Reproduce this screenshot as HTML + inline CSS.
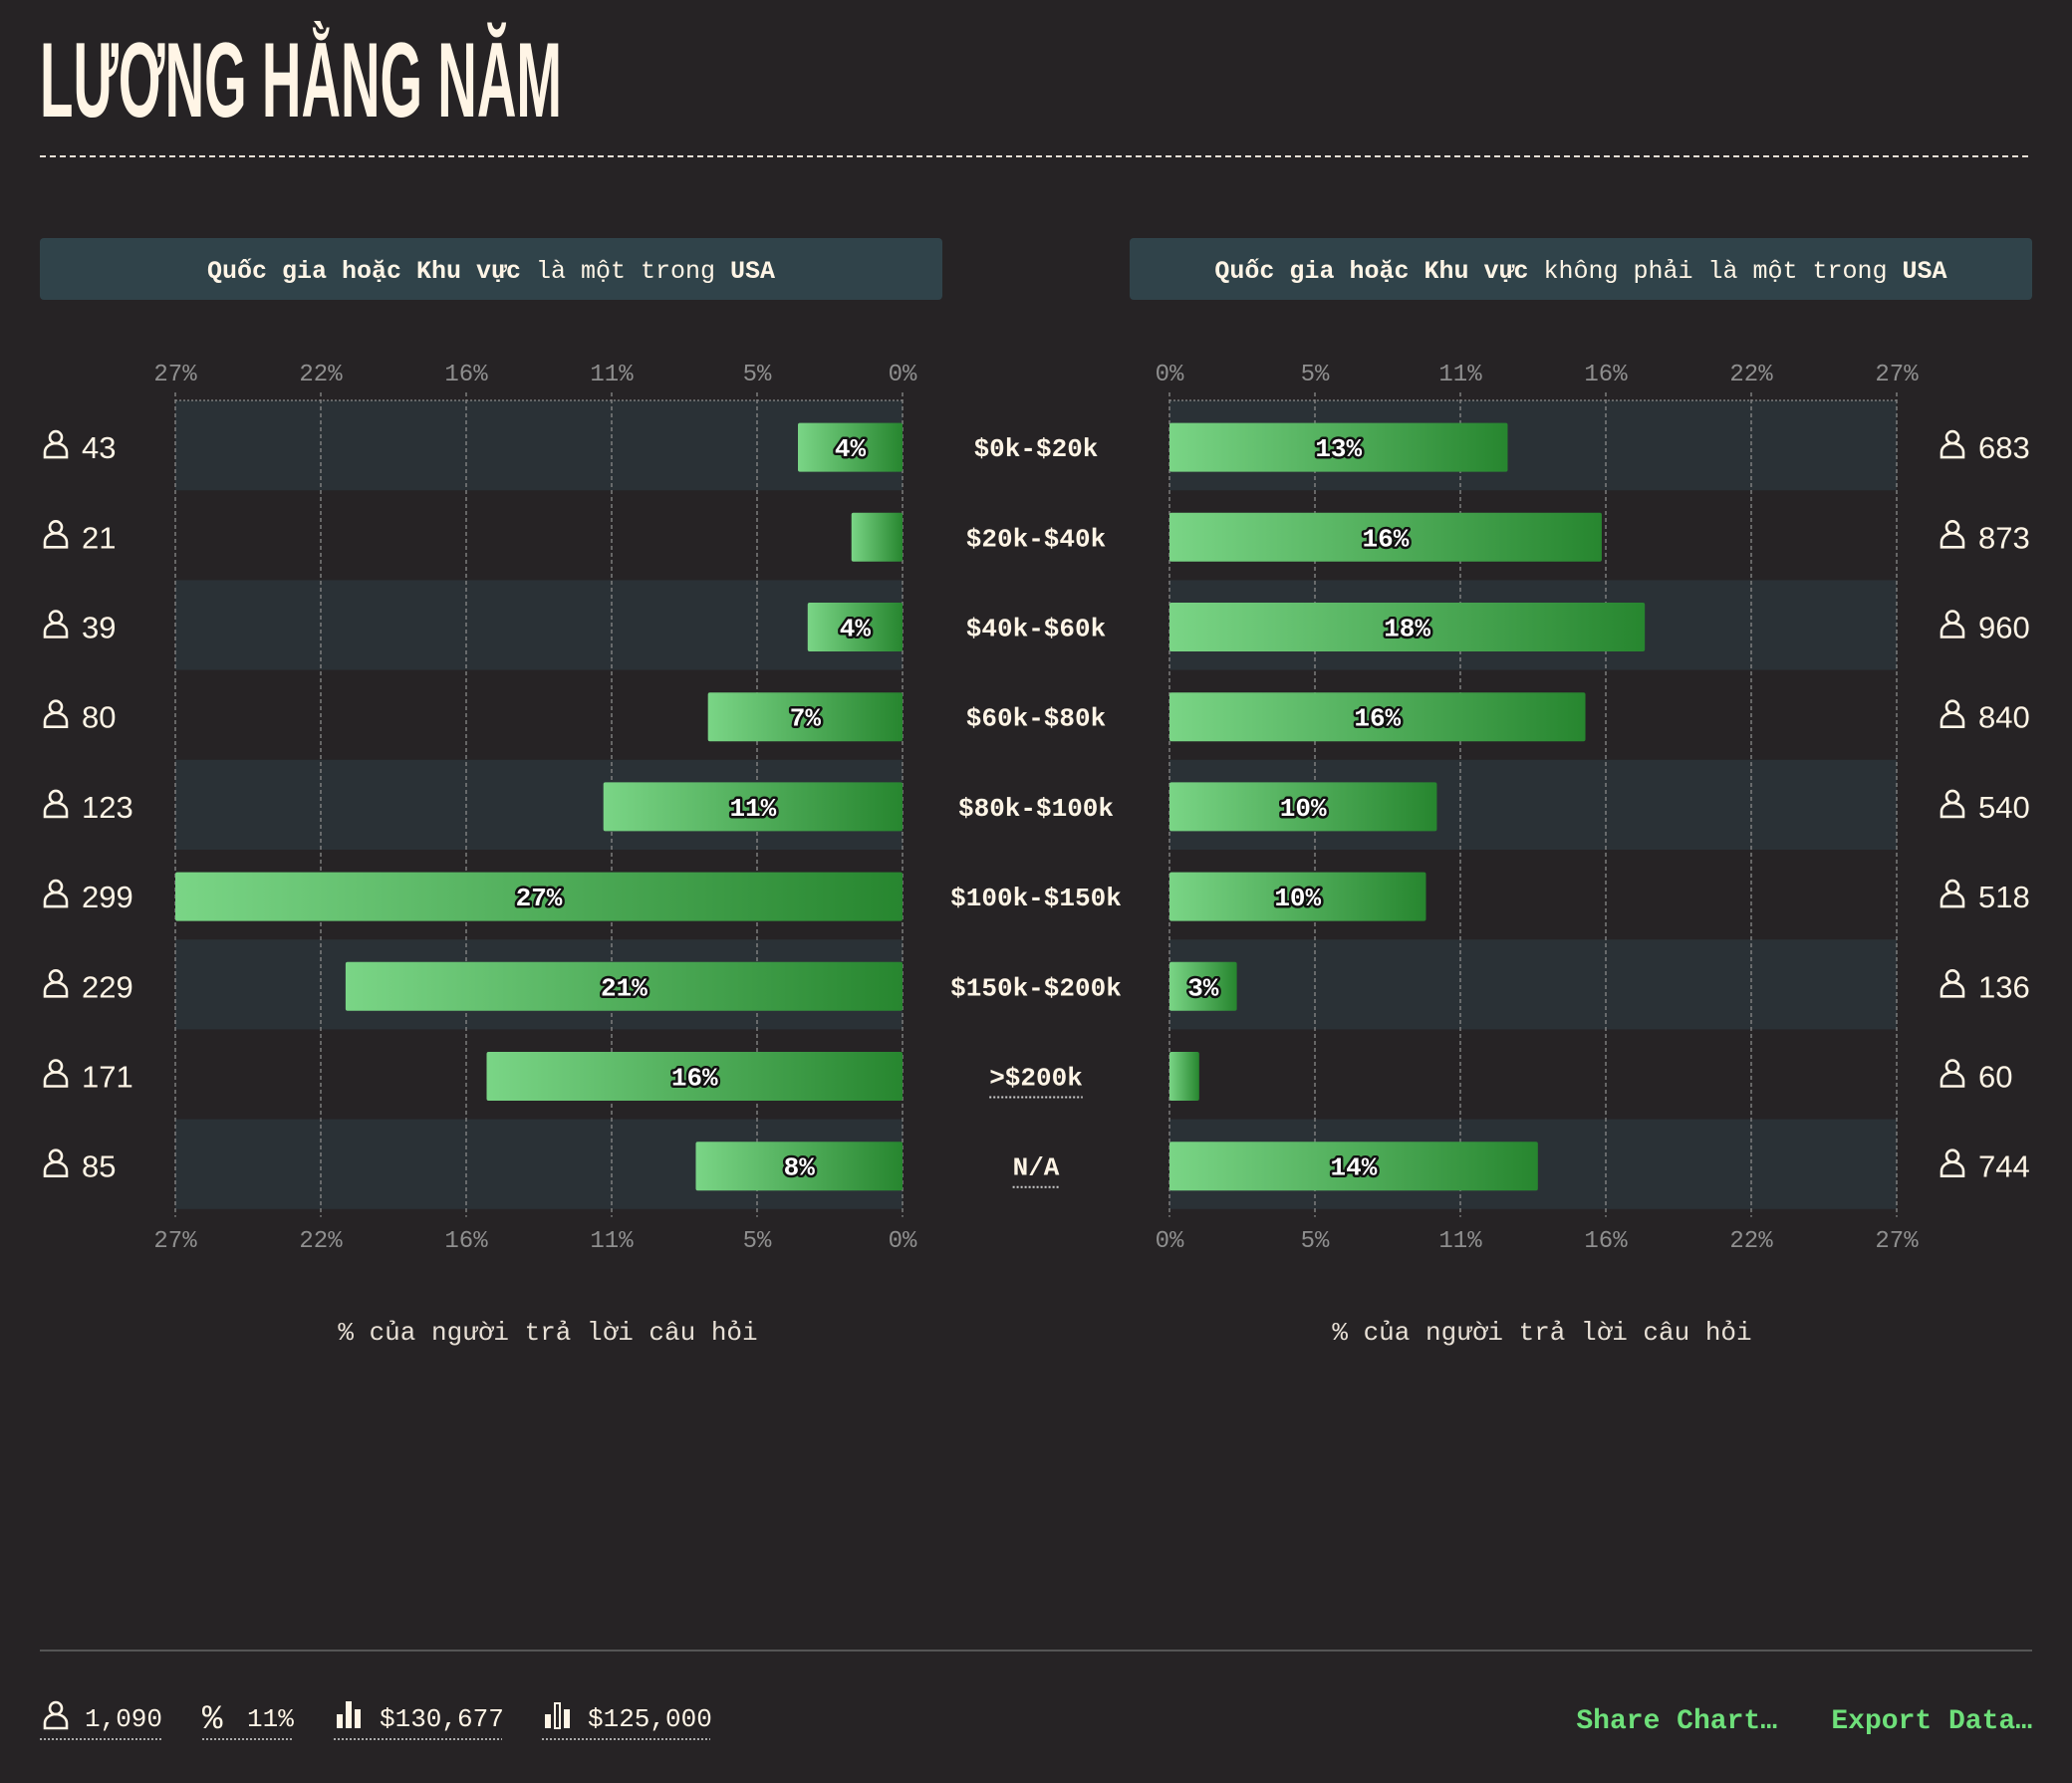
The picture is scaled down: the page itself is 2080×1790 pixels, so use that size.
<!DOCTYPE html>
<html><head><meta charset="utf-8"><style>
html,body{margin:0;padding:0;background:#262325;}
svg{display:block;}
.mono{font-family:"Liberation Mono","DejaVu Sans Mono",monospace;}
</style></head><body>
<svg id="chart" width="2080" height="1790" viewBox="0 0 2080 1790" xmlns="http://www.w3.org/2000/svg">
<defs>
<linearGradient id="bg" x1="0" x2="1" y1="0" y2="0"><stop offset="0" stop-color="#7ad586"/><stop offset="1" stop-color="#27862f"/></linearGradient>
<g id="person"><circle cx="0" cy="-8" r="6" fill="none" stroke="#fff5e6" stroke-width="2.6"/><path d="M-11,12 V7 A11,9 0 0 1 11,7 V12 Z" fill="none" stroke="#fff5e6" stroke-width="2.6"/></g>
</defs>
<rect width="2080" height="1790" fill="#262325"/>
<text x="0" y="0" font-family="'Liberation Sans Narrow','Liberation Sans',sans-serif" font-weight="bold" font-size="80" fill="#fff5e6" transform="translate(40,117) scale(1,1.33)" textLength="524" lengthAdjust="spacingAndGlyphs">LƯƠNG HẰNG NĂM</text>
<line x1="40" y1="157" x2="2040" y2="157" stroke="#e8e0d6" stroke-width="2" stroke-dasharray="6,4"/>
<rect x="40" y="239" width="906" height="62" rx="4" fill="#30434a"/>
<text x="493" y="279" text-anchor="middle" class="mono" font-size="25" fill="#fff5e6"><tspan font-weight="bold">Quốc gia hoặc Khu vực</tspan> là một trong <tspan font-weight="bold">USA</tspan></text>
<rect x="1134" y="239" width="906" height="62" rx="4" fill="#30434a"/>
<text x="1587" y="279" text-anchor="middle" class="mono" font-size="25" fill="#fff5e6"><tspan font-weight="bold">Quốc gia hoặc Khu vực</tspan> không phải là một trong <tspan font-weight="bold">USA</tspan></text>
<g id="plot"></g>
<text x="550" y="1345" text-anchor="middle" class="mono" font-size="26" fill="#e8e0d6">% của người trả lời câu hỏi</text>
<text x="1548" y="1345" text-anchor="middle" class="mono" font-size="26" fill="#e8e0d6">% của người trả lời câu hỏi</text>
<line x1="40" y1="1657" x2="2040" y2="1657" stroke="#555" stroke-width="2"/>
<g><use href="#person" x="56" y="1723"/><text x="85" y="1733" class="mono" font-size="26" fill="#fff5e6">1,090</text><line x1="40" y1="1746" x2="163" y2="1746" stroke="#aaa" stroke-width="2" stroke-dasharray="2,2"/></g>
<g><text x="203" y="1735" class="mono" font-size="34" fill="#fff5e6">%</text><text x="248" y="1733" class="mono" font-size="26" fill="#fff5e6">11%</text><line x1="203" y1="1746" x2="295" y2="1746" stroke="#aaa" stroke-width="2" stroke-dasharray="2,2"/></g>
<g><rect x="338" y="1721" width="6" height="14" fill="#fff5e6"/><rect x="347" y="1708" width="6" height="27" fill="#fff5e6"/><rect x="356" y="1716" width="6" height="19" fill="#fff5e6"/><text x="381" y="1733" class="mono" font-size="26" fill="#fff5e6">$130,677</text><line x1="335" y1="1746" x2="504" y2="1746" stroke="#aaa" stroke-width="2" stroke-dasharray="2,2"/></g>
<g><rect x="547" y="1721" width="6" height="14" fill="#fff5e6"/><rect x="557" y="1710" width="5" height="25" fill="none" stroke="#fff5e6" stroke-width="2"/><rect x="566" y="1716" width="6" height="19" fill="#fff5e6"/><text x="590" y="1733" class="mono" font-size="26" fill="#fff5e6">$125,000</text><line x1="544" y1="1746" x2="713" y2="1746" stroke="#aaa" stroke-width="2" stroke-dasharray="2,2"/></g>
<text x="1784" y="1735" text-anchor="end" class="mono" font-size="28" font-weight="bold" fill="#6ee07a">Share Chart…</text>
<text x="2040" y="1735" text-anchor="end" class="mono" font-size="28" font-weight="bold" fill="#6ee07a">Export Data…</text>
</svg>
<script>
const categories = ["$0k-$20k","$20k-$40k","$40k-$60k","$60k-$80k","$80k-$100k","$100k-$150k","$150k-$200k",">$200k","N/A"];
const usaCounts = [43,21,39,80,123,299,229,171,85];
const otherCounts = [683,873,960,840,540,518,136,60,744];
const tickLabels = ["0%","5%","11%","16%","22%","27%"];

const NS = "http://www.w3.org/2000/svg";
const plot = document.getElementById('plot');
const usaTotal = usaCounts.reduce((a,b)=>a+b,0);
const otherTotal = otherCounts.reduce((a,b)=>a+b,0);
const usaPct = usaCounts.map(c=>c/usaTotal*100);
const otherPct = otherCounts.map(c=>c/otherTotal*100);
const maxPct = Math.max(...usaPct, ...otherPct);
const W = 730, plotTop = 402, rowH = 90.2, barH = 49;
const L0 = 906, R0 = 1174;
const xL = v => L0 - v/maxPct*W;
const xR = v => R0 + v/maxPct*W;
const yRow = i => plotTop + i*rowH;
function mk(tag, attrs, parent){const e=document.createElementNS(NS,tag);for(const k in attrs)e.setAttribute(k,attrs[k]);(parent||plot).appendChild(e);return e;}
const plotBottom = yRow(categories.length);
categories.forEach((c,i)=>{
  if(i%2===0){
    let b=mk('rect',{x:xL(maxPct),y:yRow(i),width:W,height:rowH,fill:'#2a3136'});
    
    
    let b2=mk('rect',{x:R0,y:yRow(i),width:W,height:rowH,fill:'#2a3136'});
    
    
  }
});
tickLabels.forEach((t,k)=>{
  const v = maxPct*k/5;
  [[xL(v),'left'],[xR(v),'right']].forEach(([x,side])=>{
    let g=mk('line',{x1:x,y1:plotTop-8,x2:x,y2:plotBottom+8,stroke:'#8a8a8a','stroke-width':1.3,'stroke-dasharray':'4,3'});
    
    
    [plotTop-20,plotBottom+38].forEach(y=>{
      let tx=mk('text',{x:x,y:y,'text-anchor':'middle','class':'mono','font-size':24,fill:'#8f8f8f'});
      tx.textContent=t;
      
      
    });
  });
});
let tl=mk('line',{x1:xL(maxPct),y1:plotTop,x2:L0,y2:plotTop,stroke:'#8a8a8a','stroke-width':1.3,'stroke-dasharray':'2,2'});


let tr=mk('line',{x1:R0,y1:plotTop,x2:xR(maxPct),y2:plotTop,stroke:'#8a8a8a','stroke-width':1.3,'stroke-dasharray':'2,2'});


function label(x,y,v){
  const t=mk('text',{x:x,y:y,'text-anchor':'middle','class':'mono','font-size':26,'font-weight':'bold',fill:'#fff',stroke:'#111','stroke-width':5,'paint-order':'stroke','stroke-linejoin':'round'});
  t.textContent=Math.round(v)+'%';
  
  
}
categories.forEach((c,i)=>{
  const cy = yRow(i)+rowH/2+2;
  const lv=usaPct[i], rv=otherPct[i];
  const bl=mk('rect',{x:xL(lv),y:cy-barH/2,width:L0-xL(lv),height:barH,rx:2,fill:'url(#bg)'});
  
  
  if(lv>=2.2) label((xL(lv)+L0)/2,cy+9,lv);
  const br=mk('rect',{x:R0,y:cy-barH/2,width:xR(rv)-R0,height:barH,rx:2,fill:'url(#bg)'});
  
  
  if(rv>=2.2) label((xR(rv)+R0)/2,cy+9,rv);
  const cl=mk('text',{x:1040,y:cy+9,'text-anchor':'middle','class':'mono','font-size':26,'font-weight':'bold',fill:'#fff5e6'});
  cl.textContent=c;
  
  
  if(i>=7){
    const w=c.length*15.6;
    const u=mk('line',{x1:1040-w/2,y1:cy+21,x2:1040+w/2,y2:cy+21,stroke:'#ccc','stroke-width':2,'stroke-dasharray':'2,2'});
    
    
  }
  const p1=mk('use',{href:'#person',x:56,y:cy-2});
  
  
  const n1=mk('text',{x:82,y:cy+11,'font-family':'"Liberation Sans",sans-serif','font-size':31,fill:'#fff5e6'});
  n1.textContent=usaCounts[i];
  
  
  const p2=mk('use',{href:'#person',x:1960,y:cy-2});
  
  
  const n2=mk('text',{x:1986,y:cy+11,'font-family':'"Liberation Sans",sans-serif','font-size':31,fill:'#fff5e6'});
  n2.textContent=otherCounts[i];
  
  
});
</script>
</body></html>
